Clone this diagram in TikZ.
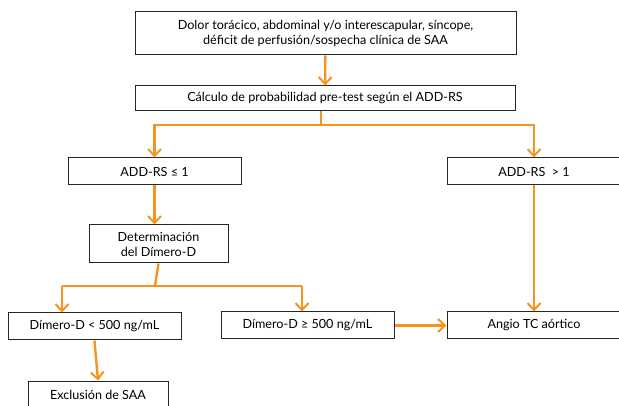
\documentclass[tikz,border=0pt]{standalone}
\usepackage{fontspec}
\setmainfont{Lato}
\usetikzlibrary{arrows.meta}
\definecolor{flow}{RGB}{247,148,29}
\begin{document}
\begin{tikzpicture}[x=1pt,y=-1pt,
  box/.style={draw=black!85,line width=1pt,rectangle,inner sep=0pt,align=center,font=\fontsize{12.6}{15}\selectfont},
  link/.style={draw=flow,line width=2.4pt},
  arr/.style={link,-{Straight Barb[length=7pt,width=13pt,line width=2pt]}}]
\useasboundingbox (0,0) rectangle (619,406);
\clip (0,0) rectangle (619,406);
\node[box,minimum width=381pt,minimum height=43pt] (b1) at (325.5,33.5) {Dolor torácico, abdominal y/o interescapular, síncope,\\déficit de perfusión/sospecha clínica de SAA};
\node[box,minimum width=380pt,minimum height=25pt] (b2) at (325,98.5) {Cálculo de probabilidad pre-test según el ADD-RS};
\node[box,minimum width=173pt,minimum height=27pt] (addL) at (154.5,171.5) {ADD-RS ≤ 1};
\node[box,minimum width=174pt,minimum height=27pt] (addR) at (534,171.5) {ADD-RS \ > 1};
\node[box,minimum width=139pt,minimum height=38pt] (det) at (158.5,244) {Determinación\\del Dímero-D};
\node[box,minimum width=173pt,minimum height=27pt] (dL) at (94.5,326.5) {Dímero-D < 500 ng/mL};
\node[box,minimum width=173pt,minimum height=27pt] (dR) at (307.5,325.5) {Dímero-D ≥ 500 ng/mL};
\node[box,minimum width=174pt,minimum height=27pt] (angio) at (534,325.5) {Angio TC aórtico};
\node[box,minimum width=140pt,minimum height=27pt] (excl) at (98,394.5) {Exclusión de SAA};
\coordinate (j1) at (321,125);
\coordinate (j2) at (155,286);
\coordinate (jl) at (62,286);
\coordinate (jr) at (302,286);
\draw[arr] (b1) -- (b2);
\draw[link] (b2.south -| j1) -- (j1);
\draw[arr] (j1) -| (addL.north);
\draw[arr] (j1) -| (addR.north);
\draw[arr] (addL.south) -- (addL.south |- det.north);
\draw[link] (det.south) -- (j2);
\draw[link] (jl) -- (jr);
\draw[arr] (jl) -- (jl |- dL.north);
\draw[arr] (jr) -- (jr |- dR.north);
\draw[arr] (dL.south) -- (excl.north);
\draw[arr] (dR.east) -- (angio.west);
\draw[arr] (addR.south) -- (angio.north);
\end{tikzpicture}
\end{document}
